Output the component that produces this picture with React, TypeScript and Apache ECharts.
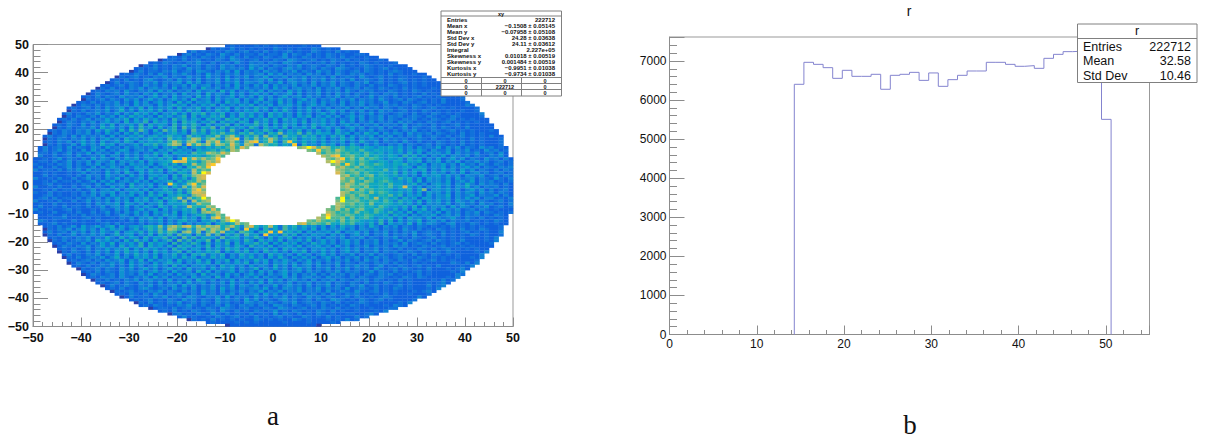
import React, { useEffect, useRef } from "react";
import * as echarts from "echarts";

// ---- Panel a: estimated colour level of each 1x1 bin (0 = lowest ... d = highest)
// Half-width of the filled disc and of the hole, per |y| row (row k covers k..k+1)
const discHalfWidth = [50,50,50,50,50,50,50,50,50,50,49,49,49,49,48,48,48,48,47,47,46,46,45,45,44,44,43,43,42,41,40,40,39,38,37,36,35,34,33,32,30,29,28,26,24,22,20,18,14,10];
const holeHalfWidth = [14,14,14,14,13,13,13,12,11,11,10,9,7,5];

// y = 49 .. 14
const upperRows = [
"1211012121 2111012101",
"0212131212 0211321212 11321201",
"1312112132 1231213121 2312113212 131201",
"0231213214 2131221312 2141321312 1321211221",
"1213121321 2314213121 3212412132 1213213121 1201",
"0122131231 2132143212 3121321432 1231213213 1212 1121",
"1213212132 4213123142 1323132143 2132123131 2121321201",
"0213121324 1231321423 1214323132 1324123213 2131212321 212101",
"1212312132 1423132142 3231524132 1342312313 2143212132 12312101",
"0131221324 1231432132 4151323142 3132413214 2313212313 2121232101",
"1213213142 1324213152 3132413234 1524132314 2313142132 3121213121 1201",
"0212312132 4132142315 2314132413 2513241324 1323141232 1421231212 210",
"1213121342 1231423141 3241524132 3425131432 4132413231 4123213121 32121201",
"0131232132 4132341524 1324132514 3241325134 2314132413 2132412312 12312121",
"1212313214 2314132415 2341324152 3142514232 4132413241 3213213121 3212121201",
"0213121324 1342315132 4163241325 1423241524 1342314132 4132313213 2121312101 21",
"1213231421 3241524132 4152341625 1324251423 1524132413 2314213231 2132121321 2101",
"0132123142 3142513241 5234162431 5241352414 2351413241 3142313213 2132312121 3121 01",
"1213132142 3241352415 2341625142 3514241524 1352341423 1324132312 4132131212 31212101",
"0212313214 2413524135 2416234152 4351423614 2524135241 3241324132 3142123132 12121301",
"1213123241 3152413524 1625143524 1635241524 3162415234 1423141324 2312412132 1231213101",
"0132131324 2415243152 4635142536 1524253614 2514352413 5241324132 4132132312 1321212101",
"1212313142 3514261524 3516243625 1436152426 3514253142 5132413241 3142313213 2132123121 2101",
"0213123241 3624153526 1435263514 2635142536 2415263142 5241352413 2413142312 3121321212 0121",
"1312132413 2514263525 1436251647 2536142635 2416352415 2413524132 4132413212 3213121321 212101",
"0213213142 4152635241 6352471625 3647152636 2516352415 3614252413 5241324132 3123213212 132101",
"1213124132 5243615263 5241736254 1635274625 1436251635 2414352413 2514132413 2132312132 1231212101",
"0132132413 5241625371 6352617462 5371635264 1735261435 2614352415 2413241323 1423121321 2312121201",
"1213214132 5261435271 6354172637 4162537162 5473615263 5142635241 3524132413 2314123213 1212312101 01",
"0213123241 6352416273 5162471837 2648172635 2741635261 4352613524 1352413241 3124132123 1321213101 01",
"1213213241 5263162738 4162847261 8372645283 1625374162 5361425241 6324132413 2131324121 3212312121 0121",
"0213213241 3152 4152 6241 3524 6351 7462 7584 6375 8462 7593 6482 7364 5263 5142 6351 4243 1423 2313 2121 3121 2101 21",
"1312314142 3241 5142 5362 4635 7452 8463 7594 8a62 7483 9472 8563 7462 5263 6152 4351 4241 3132 4123 2131 2312 1213 01",
"0213213241 4135 2416 3524 6352 8463 7a94 8a73 9a62 8594 7a83 6472 5463 5142 6351 4243 1423 2312 3213 1213 1213 1201",
"1213241352 4152 3526 4153 5463 7a84 9a72 a8b6 8a73 9b84 7a62 8463 6352 5243 5142 6324 1323 1421 3121 3212 1312 1201",
"0213124152 4263 5142 3526 4735 8a92 b7a8 a6a9 7b84 a92a 8673 6481 7342 6351 4263 1424 2132 4132 1231 3212 1312 1201",
];

// y = 13 .. 0 : left of hole | right of hole (left strings end next to the hole)
const upperHoleRows = [
"2131231413 2143152314 2432351436 2514536475 8a7b9|9a7b 8a96 7857 6465 3546 3524 1423 2514 2413 2142 3121 2131 2120",
"1312413214 1524132541 3425 1436 2534 1645 7486 a9|98b8 97a8 6758 5465 4536 2435 3142 2413 2412 1423 1213 2121 1210",
"2213124132 5142 3152 4241 3263 5164 5386 7a98 b9|a798 9786 7586 4635 3526 2514 3425 1423 2412 3141 2312 1213 0121",
"1312314123 2514 3142 4253 5164 2435 5647 8a8|a9b8 7897 6857 5465 2736 2514 2514 3241 3213 2413 1212 2101",
"0212413213 1524 3142 5351 4536 3615 5728 a89c|98a8 7969 6875 3546 2635 1425 1352 4132 1423 1312 1201",
"2131241324 1432 5143 4251 5345 6243 6748 a9b|a8b9 7868 7546 5365 2546 1435 1425 1324 2312 3121 2101",
"1213241314 2513 4241 5342 5146 3627 5a78 b9|9a78 8697 6875 4657 3425 1435 2415 2314 2132 1213 1201",
"0312413214 1425 3142 5351 4246 3517 6a8 b|9a8 7968 7565 4635 5164 2435 1423 5241 3213 2312 1201",
"2131324152 3142 4351 4526 3615 7364 a79 8|a98 9786 7658 4635 2546 1425 3415 2413 2131 3212 2101",
"1212413215 2416 3152 5341 4265 3a7 9b|b97 8968 6575 4726 3515 2534 1425 1342 3123 1231 1201",
"0213142315 3241 5241 4535 1627 59a 8|9a7 8689 5764 6352 4153 4525 2414 3241 2313 2121 0121",
"1312413142 5142 3516 2541 6362 7a9|a89 7968 6675 3746 2515 3424 1523 4132 1421 3212 1201",
"2131241425 1342 5241 5346 2637 7a8|98a 7698 5786 4536 2614 3425 1342 5132 3121 2312 0121",
"1213214152 3416 2435 1426 6359 c79|8a9 7986 6758 5534 6241 4535 1426 3142 3213 1231 2121",
];

// y = -1 .. -14 : same layout
const lowerHoleRows = [
"0312413215 2416 3425 1462 6395 a8a|9a8 8796 5768 4635 2514 3524 1436 2413 2312 1213 0121",
"2131241342 5143 5251 4364 2737 a99|89b 6978 6765 3546 2591 4435 2413 5241 3123 1321 2121",
"1213142435 1425 3516 2546 3627 b8a|a97 8869 6875 4635 2515 3425 1424 3142 3132 1212 0121",
"0213241415 2435 1426 3615 4763 9ab|a89 7986 5768 4725 3515 2436 1423 5132 2413 1212 1201",
"2131324142 5241 5362 5164 7a39 68a 9|8d79 8686 7574 6263 5154 2435 1425 2413 3121 3121 0121",
"1312413241 4251 5352 4615 6392 a79a|9c88 9768 7586 3745 2615 3524 1532 4132 1231 2121 0121",
"0213142435 1542 5143 6254 5736 a88|a989 7869 5676 4635 2514 3425 1342 3142 3121 3212 1201",
"2131241342 5142 5316 4263 4a76 7a9|8a97 8786 7586 4536 2615 2434 1524 3132 4123 1211 0121",
"1213214241 3524 5152 4364 7 2a7 b8|98a7 9689 6587 4362 5153 6241 5324 1231 3212 1012 1",
"0312413142 5241 5342 6154 7 39 a9a|a978 8696 7586 4735 2615 3425 1423 1324 1321 2121 01",
"2131243142 5142 6351 5246 7 37 a8|9c98 7986 6875 4626 3514 2435 1342 4132 3121 3212 1201",
"1213241436 2514 4263 5173 a7 8b|a978 8969 5786 3546 2516 3425 1423 5213 2131 2121 01",
"0213142435 1425 6341 5473 8 a9a|98a8 7869 6875 4537 2615 2436 1342 4132 2312 1213 21",
"2131324142 5142 4361 5747 a8 9|ab89 8796 5868 4536 2715 3426 1524 3213 4121 3212 1201",
];

// y = -15 .. -50
const lowerRows = [
"1213124152 3524 6152 4536 7594 9a8a b7a8 a9a6 8a73 9b74 7a62 8473 6352 5152 6341 4263 1424 1321 3212 1213 1212 1201",
"0213241352 4152 5341 3624 7483 a973 849a 7a96 a372 8461 7362 8463 5261 5243 5241 4324 1323 1421 3121 3212 1312 1321",
"1312314241 4253 2614 5362 6385 8729 a492 8a7a 4628 7516 6748 4636 1524 3526 1435 2413 2413 1324 1232 1312 1231 2121",
"0213124132 4241 3624 5142 6163 7284 6173 9381 6372 8461 6352 7361 4253 4152 4135 2413 2413 2314 1232 1312 1213 2121",
"1213213241 3263 1625 4162 5472 6183 7264 5283 6625 3741 6253 6142 5241 4324 1324 1321 3241 2132 1231 2121 2101",
"0213123241 6352416273 5162 4718 3726 4817 2635 2741 6352 6143 5261 3524 1352 4132 4131 2413 2123 1321 2131 01",
"1213214132 5261435271 6354 1726 3741 6253 7162 5473 6152 6351 4263 5241 3524 1324 1323 1412 3213 1212 3121 01",
"0132132413 5241625371 6352 6174 6253 7163 5264 1735 2614 3526 1435 2415 2413 2413 2314 2312 1321 2312 1212 01",
"1213124132 5243615263 5241 7362 5416 3527 4625 1436 2516 3524 1435 2413 5241 3241 3213 1213 2131 2312 1212 01",
"0213213142 4152635241 6352 4716 2536 4715 2636 2516 3524 1536 1425 2413 5241 3241 3231 2321 3212 1321 01",
"1312132413 2514263525 1436 2516 4725 3614 2635 2416 3524 1524 1352 4132 4132 4132 1232 1312 1321 2121 01",
"0213123241 3624153526 1435 2635 1426 3514 2536 2415 2631 4252 4135 2413 2413 1423 1231 2132 1212 0121",
"1212313142 3514261524 3516 2436 2514 3615 2426 3514 2531 4251 3241 3241 3142 3132 1321 3212 3121 2101",
"0132131324 2415243152 4635 1425 3615 2425 3614 2514 3524 1352 4132 4132 1321 3231 3121 2121 01",
"1213123241 3152413524 1625 1435 2416 3524 1524 3162 4152 3414 2314 1324 2312 4121 3212 3121 3101",
"0212313214 2413524135 2416 2341 5243 5142 3614 2524 1352 4132 4132 4132 3142 1231 3212 1301",
"1213132142 3241352415 2341 6251 4235 1424 1524 1352 3414 2313 2413 2312 4132 1312 1231 2101",
"0132123142 3142513241 5234 1624 3152 4135 2414 2351 4132 4131 4231 3213 2132 3121 2131 2101",
"1213231421 3241524132 4152 3416 2513 2425 1423 1524 1342 3142 3213 1321 2321 2132 1321 01",
"0213121324 1342315132 4163 2413 2514 2324 1524 1342 3141 3241 3213 2313 2121 3121 01",
"1212313214 2314132415 2341 3241 5231 4251 4232 4132 4132 4132 1321 3121 3212 1201",
"0131232132 4132341524 1324 1325 1432 4132 5134 2314 1324 1321 3241 2312 1231 21",
"1213121342 1231423141 3241 5241 3234 2513 1432 4132 4132 3141 2321 3121 3212 01",
"0212312132 4132142315 2314 1324 1325 1324 1324 1323 1412 3214 2123 1212 10",
"1213213142 1324213152 3132 4132 3415 2413 2314 2313 1421 3231 2121 3121 1201",
"0131221324 1231432132 4151 3231 4231 3241 3214 2313 2123 1321 2123 2101",
"1212312132 1423132142 3231 5241 3213 4231 2313 2143 2121 3212 3121 01",
"0213121324 1231321423 1214 3231 3213 2412 3213 2131 2123 2121 01",
"1213212132 4213123142 1323 1321 4321 3212 3131 2121 3212 01",
"0122131231 2132143212 3121 3214 3212 3121 3213 1212 1121",
"1213121321 2314213121 3212 4121 3212 1321 3121 1201",
"0231213214 2131221312 2141 3213 1213 2121 1221",
"1312112132 1231213121 2312 1132 1213 1201",
"0212131212 0211321212 11321201",
"1211012121 2111012101",
"0011010110 0110101100",
];

// Bright cells readable in the picture: [x bin, y bin, level]
const hotCells = [
[-15,4,13],[-15,-5,13],[-12,9,12],[-13,7,12],[-14,6,12],[-4,15,12],[-8,16,12],[3,15,12],[4,14,12],[7,13,13],
[12,8,13],[15,7,12],[14,-6,13],[11,-12,13],[1,-17,12],[-1,-17,12],[-2,-18,12],[-9,-13,13],[-12,-12,12],[-6,-16,12],
[-21,8,12],[-20,8,11],[-19,8,11],[-19,9,12],[-22,0,12],[27,-1,11],[21,-5,10],[13,10,12],[14,9,12],[-17,9,11],
[9,12,12],[-16,-2,12],[-16,-3,11],[-15,-1,11],[-15,2,11],[-15,3,11],
];

const levelColors = ["#2a3fa8","#0f62dd","#1172db","#1283d6","#0f93d0","#0a9fca","#10a9bd","#22b0ac","#4ab796","#7cbc80","#b0bd68","#d8ba52","#fbc92c","#f9fb0e"];

// ---- Panel b: histogram
const histBinWidth = 1.1;
const histFirstBin = 13;
const histValues = [6404,6967,6915,6830,6557,6762,6608,6608,6660,6277,6634,6660,6710,6505,6695,6352,6523,6634,6745,6745,6967,6967,6915,6865,6882,6813,7069,7171,7240,7252,7250,7240,5507];

const xyStatLabels = ["Entries","Mean x","Mean y","Std Dev x","Std Dev y","Integral","Skewness x","Skewness y","Kurtosis x","Kurtosis y"];
const xyStatValues = ["222712","\u22120.1508 \u00b1 0.05145","\u22120.07958 \u00b1 0.05108","24.28 \u00b1 0.03638","24.11 \u00b1 0.03612","2.227e+05","0.01018 \u00b1 0.00519","0.001484 \u00b1 0.00519","\u22120.9951 \u00b1 0.01038","\u22120.9734 \u00b1 0.01038"];
const xyMatrix = [["0","0","0"],["0","222712","0"],["0","0","0"]];
const rStatLabels = ["Entries","Mean","Std Dev"];
const rStatValues = ["222712","32.58","10.46"];

function level(ch: string, isEdge: boolean) {
  const v = parseInt(ch, 36);
  if (isNaN(v)) return 3;
  return v === 0 && !isEdge ? 1 : v;
}

function buildCells() {
  const cells = new Map<string, number[]>();
  const put = (x: number, y: number, v: number) => cells.set(x + "," + y, [x, y, v]);
  const pushRow = (text: string, k: number, yBottom: number) => {
    const row = text.replace(/ /g, "");
    const w = discHalfWidth[k];
    const h = k < holeHalfWidth.length ? holeHalfWidth[k] : 0;
    if (row.includes("|")) {
      const [l, r] = row.split("|");
      for (let i = 0; i < w - h; i++) {
        const edge = i === w - h - 1;
        const li = l.length - 1 - i;
        put(-h - 1 - i, yBottom, li >= 0 ? level(l[li], edge) : Math.max(1, level(l[i % l.length], edge) % 4));
        put(h + i, yBottom, i < r.length ? level(r[i], edge) : Math.max(1, level(r[i % r.length], edge) % 4));
      }
    } else {
      for (let i = 0; i < 2 * w; i++) {
        const edge = i === 0 || i === 2 * w - 1;
        put(-w + i, yBottom, i < row.length ? level(row[i], edge) : Math.max(1, level(row[i % row.length], edge) % 4));
      }
    }
  };
  upperRows.forEach((row, i) => pushRow(row, 49 - i, 49 - i));
  upperHoleRows.forEach((row, i) => pushRow(row, 13 - i, 13 - i));
  lowerHoleRows.forEach((row, i) => pushRow(row, i, -i - 1));
  lowerRows.forEach((row, i) => pushRow(row, 14 + i, -15 - i));
  hotCells.forEach(([x, y, v]) => { if (cells.has(x + "," + y)) put(x, y, v); });
  return Array.from(cells.values());
}

function buildHist() {
  const pts: number[][] = [[histFirstBin * histBinWidth, 0]];
  histValues.forEach((v, i) => pts.push([(histFirstBin + i) * histBinWidth, v]));
  pts.push([(histFirstBin + histValues.length) * histBinWidth, 0]);
  return pts;
}

const SANS = "'Liberation Sans', Arial, sans-serif";
const AXIS = "#8c8c8c";
const minus = (v: number) => String(v).replace("-", "\u2212");

function axisBase(major: number, minor: number, labelStyle: any) {
  return {
    axisLine: { show: true, onZero: false, lineStyle: { color: AXIS, width: 1 } },
    axisTick: { show: true, inside: true, length: major, lineStyle: { color: AXIS, width: 1 } },
    minorTick: { show: true, splitNumber: minor, length: major / 2, lineStyle: { color: AXIS, width: 1 } },
    splitLine: { show: false },
    axisLabel: labelStyle,
  };
}

function statBoxes() {
  const g: any[] = [];
  const line = (x1: number, y1: number, x2: number, y2: number, c = "#808080") => g.push({ type: "line", z: 20, shape: { x1, y1, x2, y2 }, style: { stroke: c, lineWidth: 1 } });
  const text = (x: number, y: number, t: string, size: number, align: string, weight = "normal", color = "#111") =>
    g.push({ type: "text", z: 21, x, y, style: { text: t, fontFamily: SANS, fontSize: size, fontWeight: weight, fill: color, align, verticalAlign: "middle" } });
  // xy box
  g.push({ type: "rect", z: 19, shape: { x: 441, y: 11, width: 120.5, height: 85 }, style: { fill: "#fff", stroke: "#808080", lineWidth: 1 } });
  line(441, 16, 561.5, 16);
  text(501, 13.5, "xy", 5.5, "center", "bold");
  const ys = [20, 26, 32, 38, 44, 50, 56, 62, 68, 74];
  xyStatLabels.forEach((t, i) => {
    text(447, ys[i], t, 6, "left", "bold");
    text(555, ys[i], xyStatValues[i], 6, "right", "bold");
  });
  [77.5, 83.5, 89.5].forEach((y) => line(441, y, 561.5, y));
  [481.5, 521.5].forEach((x) => line(x, 77.5, x, 96));
  xyMatrix.forEach((row, r) => row.forEach((t, c) => text([466, 505, 545][c], 80.5 + r * 6, t, 5.5, "center", "bold")));
  // r box
  g.push({ type: "rect", z: 19, shape: { x: 1077.5, y: 24, width: 119.5, height: 58.5 }, style: { fill: "#fff", stroke: "#808080", lineWidth: 1 } });
  line(1077.5, 38.5, 1197, 38.5);
  text(1137, 31, "r", 12.5, "center");
  [46.5, 61, 75.5].forEach((y, i) => {
    text(1083, y, rStatLabels[i], 12.5, "left");
    text(1191, y, rStatValues[i], 12.5, "right");
  });
  // titles and captions
  text(909, 11, "r", 14, "center");
  g.push({ type: "text", z: 21, x: 273, y: 416, style: { text: "a", fontFamily: "'Liberation Serif', serif", fontSize: 27, fill: "#111", align: "center", verticalAlign: "middle" } });
  g.push({ type: "text", z: 21, x: 910, y: 425, style: { text: "b", fontFamily: "'Liberation Serif', serif", fontSize: 27, fill: "#111", align: "center", verticalAlign: "middle" } });
  return g;
}

export default function App() {
  const ref = useRef<HTMLDivElement>(null);
  useEffect(() => {
    const chart = echarts.init(ref.current!, undefined, { renderer: "svg" });
    const boldX = { fontFamily: SANS, fontSize: 12.5, fontWeight: "bold", color: "#111", margin: 5, formatter: minus };
    const boldY = { fontFamily: SANS, fontSize: 12.5, fontWeight: "bold", color: "#111", margin: 4, formatter: minus };
    const thinLabel = { fontFamily: SANS, fontSize: 12, color: "#111", margin: 3, showMaxLabel: false, formatter: (v: number) => String(v) };
    chart.setOption({
      animation: false,
      backgroundColor: "#fff",
      grid: [
        { left: 33, top: 44.5, width: 480, height: 282, show: true, borderColor: "#999", borderWidth: 1, backgroundColor: "transparent" },
        { left: 669.5, top: 37, width: 480, height: 297.5, show: true, borderColor: "#999", borderWidth: 1, backgroundColor: "transparent" },
      ],
      xAxis: [
        { type: "value", gridIndex: 0, min: -50, max: 50, interval: 10, ...axisBase(9, 5, boldX) },
        { type: "value", gridIndex: 1, min: 0, max: 55, interval: 10, ...axisBase(9, 5, thinLabel) },
      ],
      yAxis: [
        { type: "value", gridIndex: 0, min: -50, max: 50, interval: 10, ...axisBase(15, 5, boldY) },
        { type: "value", gridIndex: 1, min: 0, max: 7615, interval: 1000, ...axisBase(15, 5, thinLabel) },
      ],
      series: [
        {
          type: "custom",
          xAxisIndex: 0,
          yAxisIndex: 0,
          data: buildCells(),
          encode: { x: 0, y: 1 },
          silent: true,
          renderItem: (_: any, api: any) => {
            const x = api.value(0), y = api.value(1);
            const a = api.coord([x, y + 1]);
            const b = api.coord([x + 1, y]);
            return {
              type: "rect",
              shape: { x: a[0], y: a[1], width: b[0] - a[0] + 0.3, height: b[1] - a[1] + 0.3 },
              style: { fill: levelColors[api.value(2)] },
            };
          },
        },
        {
          type: "line",
          xAxisIndex: 1,
          yAxisIndex: 1,
          step: "end",
          symbol: "none",
          data: buildHist(),
          lineStyle: { color: "#8484cf", width: 1 },
        },
      ],
      graphic: statBoxes(),
    });
    return () => chart.dispose();
  }, []);
  return <div ref={ref} style={{ position: "absolute", left: 0, top: 0, width: 1207, height: 439 }} />;
}
